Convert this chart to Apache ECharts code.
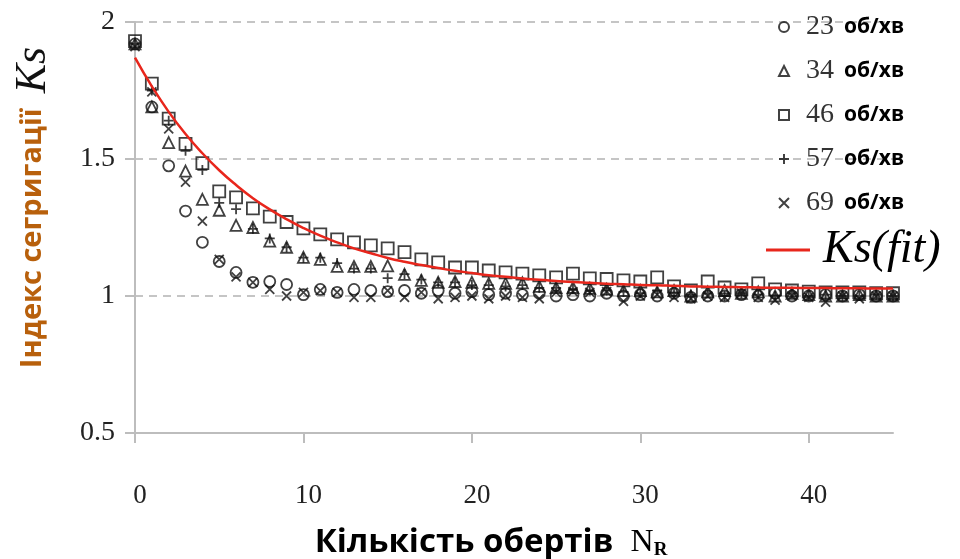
<!DOCTYPE html>
<html>
<head>
<meta charset="utf-8">
<title>Ks</title>
<style type="text/css">
    *{ margin:0; padding:0; }
    html,body{ width:100%; height:100%; background:#fff; }
    #main{ width:960px; height:559px; }
</style>
</head>
<body>
<div id="main"></div>
<script src="https://cdn.jsdelivr.net/npm/echarts@6/dist/echarts.min.js"></script>
<script type="text/javascript">
// кількість обертів
var turns = [0,1,2,3,4,5,6,7,8,9,10,11,12,13,14,15,16,17,18,19,20,21,22,
             23,24,25,26,27,28,29,30,31,32,33,34,35,36,37,38,39,40,41,42,43,44,45];

// індекс сегрегації для кожної швидкості
var rpm23 = [1.92,1.69,1.475,1.31,1.196,1.126,1.086,1.05,1.053,1.042,1.005,1.024,1.013,1.024,1.02,1.016,
             1.02,1.01,1.02,1.01,1.016,1.005,1.01,1.005,1.01,1.0,1.005,1.0,1.01,1.0,1.005,1.0,1.01,0.995,
             1.0,1.0,1.005,1.0,1.01,1.0,1.0,1.005,1.0,1.005,1.0,1.0];
var rpm34 = [1.92,1.69,1.56,1.456,1.353,1.313,1.258,1.25,1.2,1.178,1.141,1.134,1.108,1.108,1.108,1.11,
             1.079,1.057,1.05,1.053,1.05,1.046,1.046,1.048,1.035,1.031,1.031,1.028,1.025,1.02,1.02,1.015,
             1.02,1.0,1.015,1.02,1.01,1.015,1.0,1.01,1.005,1.0,1.0,1.005,1.0,1.0];
var rpm46 = [1.93,1.775,1.647,1.555,1.485,1.382,1.36,1.32,1.29,1.27,1.247,1.225,1.207,1.196,1.185,1.174,
             1.16,1.134,1.123,1.104,1.104,1.093,1.086,1.082,1.075,1.068,1.082,1.064,1.062,1.057,1.053,1.068,
             1.035,1.02,1.053,1.031,1.024,1.046,1.024,1.02,1.016,1.013,1.013,1.013,1.01,1.01];
var rpm57 = [1.92,1.75,1.64,1.53,1.46,1.34,1.317,1.245,1.21,1.178,1.14,1.14,1.12,1.1,1.1,1.065,
             1.08,1.06,1.05,1.05,1.04,1.04,1.035,1.04,1.03,1.03,1.025,1.02,1.02,1.015,1.01,1.02,
             1.01,1.005,1.01,1.0,1.01,1.005,1.0,1.01,1.0,1.005,1.0,1.0,1.005,1.0];
var rpm69 = [1.91,1.745,1.61,1.416,1.273,1.134,1.07,1.05,1.024,1.0,1.013,1.02,1.013,0.995,0.995,1.02,
             0.995,1.013,0.99,0.995,1.0,0.99,1.0,0.995,0.99,1.013,1.016,1.013,1.016,0.98,1.0,1.005,
             0.995,0.99,1.0,0.995,1.01,0.995,0.985,1.0,0.995,0.978,1.0,0.99,1.0,1.0];
// апроксимація Ks(fit), зчитана з кривої
var ksFit = [1.870,1.765,1.672,1.591,1.521,1.459,1.405,1.357,1.316,1.280,1.248,1.220,1.196,1.174,1.156,1.139,
             1.125,1.113,1.102,1.092,1.084,1.076,1.070,1.064,1.059,1.055,1.051,1.048,1.045,1.043,1.040,1.039,
             1.037,1.035,1.034,1.033,1.032,1.031,1.030,1.030,1.029,1.029,1.028,1.028,1.027,1.027];

var seriesNames = ['23 об/хв','34 об/хв','46 об/хв','57 об/хв','69 об/хв'];
var xTicks = [0,10,20,30,40];

var symbols = [
    'circle',
    'triangle',
    'rect',
    'path://M0,-5L0,5M-5,0L5,0',
    'path://M-5,-5L5,5M-5,5L5,-5'
];
var sizes = [11, 11, 12, 10, 9];

function pairs(vals){
    return turns.map(function(n, i){ return [n, vals[i]]; });
}

var myChart = echarts.init(document.getElementById('main'));

var allData = [rpm23, rpm34, rpm46, rpm57, rpm69];
var series = allData.map(function(vals, i){
    return {
        name: seriesNames[i],
        type: 'scatter',
        symbol: symbols[i],
        symbolSize: sizes[i],
        itemStyle: { color: 'rgba(0,0,0,0)', borderColor: '#111', borderWidth: 1.8 },
        data: pairs(vals),
        z: 3
    };
});
series.push({
    name: 'Ks(fit)',
    type: 'line',
    smooth: true,
    showSymbol: false,
    lineStyle: { color: '#e8261c', width: 2.5 },
    itemStyle: { color: '#e8261c' },
    data: pairs(ksFit),
    z: 4
});

var option = {
    animation: false,
    backgroundColor: '#fff',
    grid: { left: 135, right: 67, top: 22, bottom: 126, containLabel: false, outerBoundsMode: 'none' },
    legend: [{
        data: seriesNames,
        orient: 'vertical',
        left: 773,
        top: 8,
        itemWidth: 10,
        itemHeight: 10,
        itemGap: 16,
        formatter: function(name){
            var p = name.split(' ');
            return '{n|' + p[0] + '}{u|' + p[1] + '}';
        },
        textStyle: {
            rich: {
                n: { fontFamily: 'Liberation Serif', fontSize: 28, color: '#333', padding: [0, 10, 0, 12] },
                u: { fontFamily: 'Open Sans', fontWeight: 'bold', fontSize: 21, color: '#000' }
            }
        }
    }, {
        data: [{ name: 'Ks(fit)', icon: 'rect' }],
        left: 761,
        top: 222,
        itemWidth: 44,
        itemHeight: 3,
        itemGap: 14,
        textStyle: { fontFamily: 'Liberation Serif', fontStyle: 'italic', fontSize: 46, color: '#000', padding: [0, 0, 0, 8] }
    }],
    xAxis: {
        type: 'value',
        min: 0,
        max: 45,
        interval: 10,
        name: '{a|Кількість обертів  }{b|N}{c|R}',
        nameLocation: 'middle',
        nameGap: 92,
        nameMoveOverlap: false,
        nameTextStyle: {
            padding: [0, 46, 0, 0],
            rich: {
                a: { fontFamily: 'Open Sans', fontWeight: 'bold', fontSize: 33, color: '#000' },
                b: { fontFamily: 'Liberation Serif', fontSize: 32, color: '#000' },
                c: { fontFamily: 'Liberation Serif', fontWeight: 'bold', fontSize: 19, color: '#000', padding: [16, 0, 0, 0] }
            }
        },
        axisLine: { show: true, lineStyle: { color: '#bdbdbd', width: 2 } },
        axisTick: { show: true, customValues: xTicks, length: 10, lineStyle: { color: '#bdbdbd', width: 2 } },
        axisLabel: {
            customValues: xTicks,
            margin: 49,
            padding: [0, 0, 0, 10],
            fontFamily: 'Liberation Serif',
            fontSize: 27,
            color: '#222'
        },
        splitLine: { show: false }
    },
    yAxis: {
        type: 'value',
        min: 0.5,
        max: 2,
        interval: 0.5,
        name: '{a|Індекс сегригації  }{b|Ks}',
        nameLocation: 'middle',
        nameRotate: 90,
        nameGap: 80,
        nameMoveOverlap: false,
        nameTextStyle: {
            padding: [0, 0, 0, 40],
            rich: {
                a: { fontFamily: 'Open Sans', fontWeight: 'bold', fontSize: 29, color: '#b8600c' },
                b: { fontFamily: 'Liberation Serif', fontStyle: 'italic', fontSize: 44, color: '#111' }
            }
        },
        axisLine: { show: true, lineStyle: { color: '#bdbdbd', width: 2 } },
        axisTick: { show: true, length: 10, lineStyle: { color: '#bdbdbd', width: 2 } },
        axisLabel: {
            margin: 20,
            fontFamily: 'Liberation Serif',
            fontSize: 28,
            color: '#222'
        },
        splitLine: { show: true, lineStyle: { color: '#b3b3b3', width: 1.5, type: [8, 6] } }
    },
    series: series
};

myChart.setOption(option);
</script>
</body>
</html>
